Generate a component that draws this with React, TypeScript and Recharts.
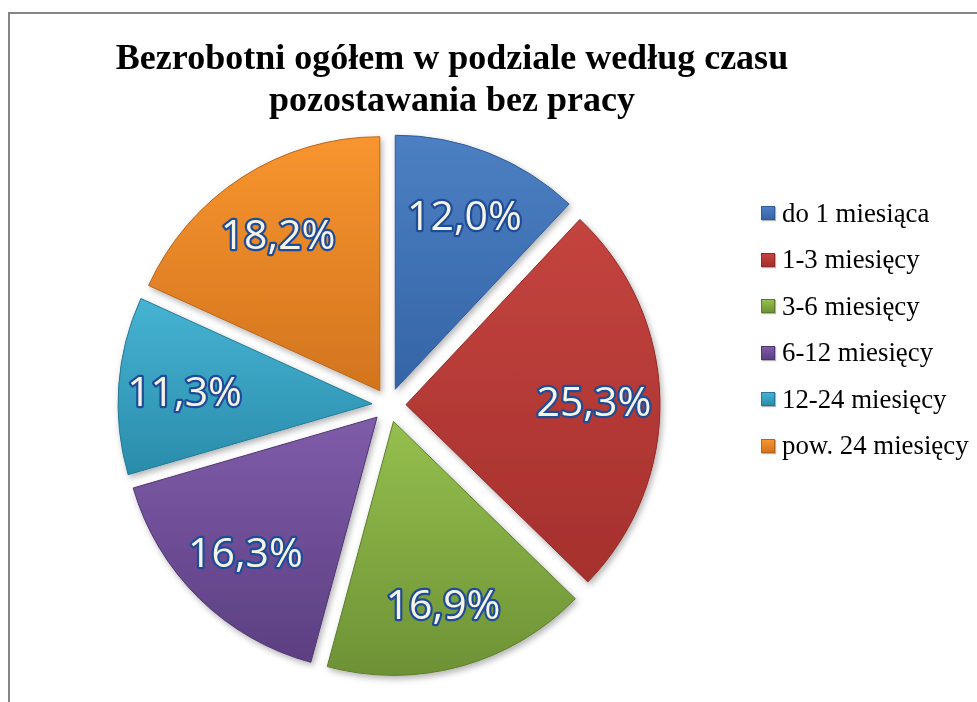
import React from 'react';
import { PieChart, Pie, Cell, Sector, Legend } from 'recharts';

const categories = ['do 1 miesiąca', '1-3 miesięcy', '3-6 miesięcy', '6-12 miesięcy', '12-24 miesięcy', 'pow. 24 miesięcy'];
const values = [12.0, 25.3, 16.9, 16.3, 11.3, 18.2];
const topColors = ['#4c80c3', '#c4443f', '#95bf4e', '#7f5ca9', '#46b3d3', '#f8952f'];
const bottomColors = ['#3464a6', '#a5302d', '#6d9235', '#5c3f82', '#2a8cab', '#d3741e'];
const edgeColors = ['#2e5a96', '#8e2a27', '#5d7d2c', '#4e3670', '#247a96', '#b8651a'];
const titleLines = ['Bezrobotni ogółem w podziale według czasu', 'pozostawania bez pracy'];

const data = categories.map((name, i) => ({ name, value: values[i], idx: i }));

const EXPLODE = 17;
const RAD = Math.PI / 180;

const ExplodedSector = (props: any) => {
  const { cx, cy, midAngle, outerRadius, startAngle, endAngle, payload } = props;
  const i = payload && payload.idx !== undefined ? payload.idx : 0;
  const dx = EXPLODE * Math.cos(-midAngle * RAD);
  const dy = EXPLODE * Math.sin(-midAngle * RAD);
  return (
    <Sector
      cx={cx + dx}
      cy={cy + dy}
      innerRadius={0}
      outerRadius={outerRadius}
      startAngle={startAngle}
      endAngle={endAngle}
      fill={`url(#grad${i})`}
      stroke={edgeColors[i]}
      strokeWidth={1}
      filter="url(#sliceShadow)"
    />
  );
};

const renderLabel = (props: any) => {
  const { cx, cy, midAngle, outerRadius, value } = props;
  const r = EXPLODE + outerRadius * 0.74;
  const x = cx + r * Math.cos(-midAngle * RAD);
  const y = cy + r * Math.sin(-midAngle * RAD);
  const txt = Number(value).toFixed(1).replace('.', ',') + '%';
  return (
    <text
      x={x}
      y={y}
      textAnchor="middle"
      dominantBaseline="central"
      fontFamily="'Open Sans', sans-serif"
      fontSize={41}
      fill="#f6f4e6"
      stroke="#1f4c96"
      strokeWidth={4.5}
      strokeLinejoin="round"
      paintOrder="stroke"
    >
      {txt}
    </text>
  );
};

const renderLegend = () => (
  <div style={{ fontFamily: "'Times New Roman', 'Liberation Serif', serif", fontSize: 26.8, color: '#000' }}>
    {categories.map((c, i) => (
      <div key={c} style={{ height: 46.5, display: 'flex', alignItems: 'center', whiteSpace: 'nowrap' }}>
        <span
          style={{
            display: 'inline-block',
            width: 12,
            height: 12,
            marginRight: 7,
            background: `linear-gradient(${topColors[i]}, ${bottomColors[i]})`,
            border: `1px solid ${edgeColors[i]}`,
            boxShadow: '1px 1px 1px rgba(0,0,0,0.3)',
          }}
        />
        <span>{c}</span>
      </div>
    ))}
  </div>
);

export default function App() {
  return (
    <div style={{ position: 'relative', width: 961, height: 686, background: '#fff' }}>
      <svg width={0} height={0} style={{ position: 'absolute' }}>
        <defs>
          {categories.map((c, i) => (
            <linearGradient key={c} id={`grad${i}`} x1="0" y1="0" x2="0" y2="1">
              <stop offset="0%" stopColor={topColors[i]} />
              <stop offset="100%" stopColor={bottomColors[i]} />
            </linearGradient>
          ))}
          <filter id="sliceShadow" x="-20%" y="-20%" width="140%" height="140%">
            <feDropShadow dx="2" dy="3" stdDeviation="3" floodColor="#000" floodOpacity="0.3" />
          </filter>
        </defs>
      </svg>
      <div
        style={{
          position: 'fixed',
          left: 8,
          top: 12,
          width: 1200,
          height: 1200,
          borderLeft: '2px solid #858585',
          borderTop: '2px solid #858585',
          boxSizing: 'border-box',
          pointerEvents: 'none',
        }}
      />
      <div
        style={{
          position: 'absolute',
          left: 0,
          top: 28,
          width: 888,
          textAlign: 'center',
          fontFamily: "'Times New Roman', 'Liberation Serif', serif",
          fontWeight: 'bold',
          fontSize: 36,
          lineHeight: '42px',
          color: '#000',
          zIndex: 2,
        }}
      >
        {titleLines.map((t) => (
          <div key={t}>{t}</div>
        ))}
      </div>
      <div style={{ position: 'absolute', left: 0, top: 0 }}>
        <PieChart width={961} height={686} margin={{ top: 0, right: 0, bottom: 0, left: 0 }}>
          <Pie
            data={data}
            dataKey="value"
            nameKey="name"
            cx={381}
            cy={397}
            innerRadius={0}
            outerRadius={254}
            startAngle={90}
            endAngle={-270}
            stroke="none"
            shape={ExplodedSector}
            label={renderLabel}
            labelLine={false}
            isAnimationActive={false}
          >
            {data.map((d, i) => (
              <Cell key={d.name} fill={topColors[i]} />
            ))}
          </Pie>
          <Legend
            layout="vertical"
            align="right"
            verticalAlign="top"
            content={renderLegend}
            wrapperStyle={{ position: 'absolute', top: 182, left: 753, width: 230 }}
          />
        </PieChart>
      </div>
    </div>
  );
}
